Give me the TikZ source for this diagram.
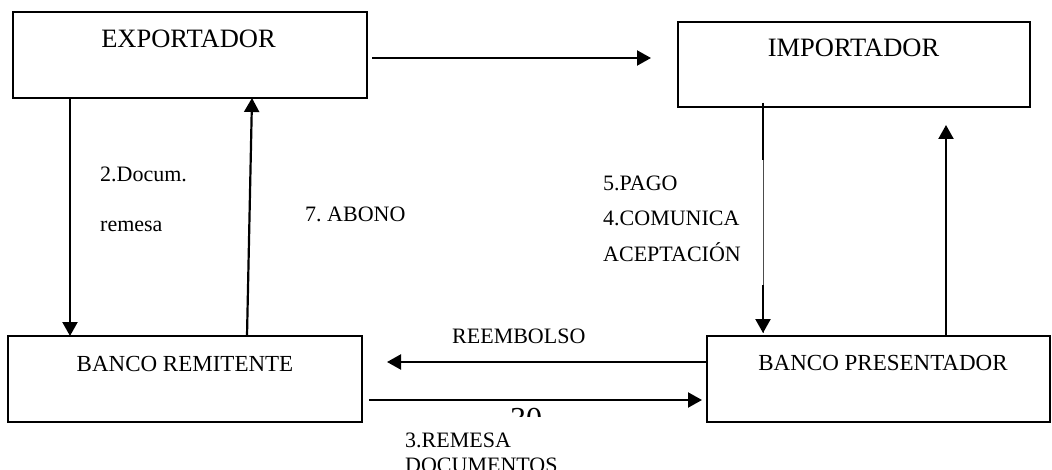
\documentclass[tikz,border=0pt]{standalone}
\usepackage{fontspec}
\setmainfont{Liberation Serif}
\usetikzlibrary{arrows.meta,calc}
\begin{document}
\frenchspacing
\begin{tikzpicture}[x=1pt,y=-1pt,
  box/.style={draw,line width=1.8pt,rectangle,inner sep=0pt,outer sep=0pt},
  bigtxt/.style={anchor=base,inner sep=0pt,font=\fontsize{26.5}{30}\selectfont},
  midtxt/.style={anchor=base,inner sep=0pt,font=\fontsize{23}{27}\selectfont},
  lbl/.style={anchor=base west,inner sep=0pt,font=\fontsize{22}{26}\selectfont},
  arr/.style={-{Triangle[length=14pt,width=15pt]},line width=2.2pt},
  thick line/.style={line width=2.2pt},
  thin line/.style={line width=0.7pt,black!70}]
\useasboundingbox (0,0) rectangle (1052,470);
% boxes
\node[box,minimum width=354pt,minimum height=86pt] (exp) at (190,55) {};
\node[box,minimum width=352pt,minimum height=85pt] (imp) at (854,64.5) {};
\node[box,minimum width=354pt,minimum height=86pt] (rem) at (185,379) {};
\node[box,minimum width=343pt,minimum height=86pt] (pre) at (878.5,379) {};
% box texts
\node[bigtxt] (expt) at (188.5,48) {EXPORTADOR};
\node[bigtxt] (impt) at (853.5,57) {IMPORTADOR};
\node[midtxt] (remt) at (185,371) {BANCO REMITENTE};
\node[midtxt] (pret) at (883,370) {BANCO PRESENTADOR};
% connectors
\draw[arr] ($(exp.east)+(5,3)$) -- ($(imp.west)+(-27,-6.5)$);
\draw[arr] ($(exp.south west)+(57,0)$) -- ($(rem.north west)+(62,0)$);
\draw[arr] ($(rem.north west)+(239,0)$) -- ($(exp.south west)+(239,0)$);
\coordinate (d1) at ($(imp.south west)+(85,-4)$);
\coordinate (d2) at ($(pre.north west)+(56,-3)$);
\draw[thin line] (d1) -- (d2);
\draw[thick line] (d1) -- ($(d1)+(0,57)$);
\draw[arr] ($(d2)+(0,-48)$) -- (d2);
\draw[arr] ($(pre.north west)+(239,0)$) -- ($(imp.south west)+(268,18)$);
\draw[arr] ($(pre.west)+(0,-17)$) -- ($(rem.east)+(25,-17)$);
\draw[arr] ($(rem.east)+(7,21)$) -- ($(pre.west)+(-5,21)$);
% labels
\node[lbl] (l2a) at (100,182) {2.Docum.};
\node[lbl] (l2b) at (100,232) {remesa};
\node[lbl] (l7) at (305,222) {7. ABONO};
\node[lbl] (l5) at (603,191) {5.PAGO};
\node[lbl] (l4a) at (603,226) {4.COMUNICA};
\node[lbl] (l4b) at (603,262) {ACEPTACIÓN};
\node[lbl] (lre) at (452,343) {REEMBOLSO};
\node[lbl] (l3a) at (405,447) {3.REMESA};
\node[lbl] (l3b) at (405,472) {DOCUMENTOS};
\begin{scope}
  \clip (490,402) rectangle (570,416.5);
  \node[anchor=base west,inner sep=0pt,font=\fontsize{32}{36}\selectfont] (pg) at (510,429) {30};
\end{scope}
\end{tikzpicture}
\end{document}
